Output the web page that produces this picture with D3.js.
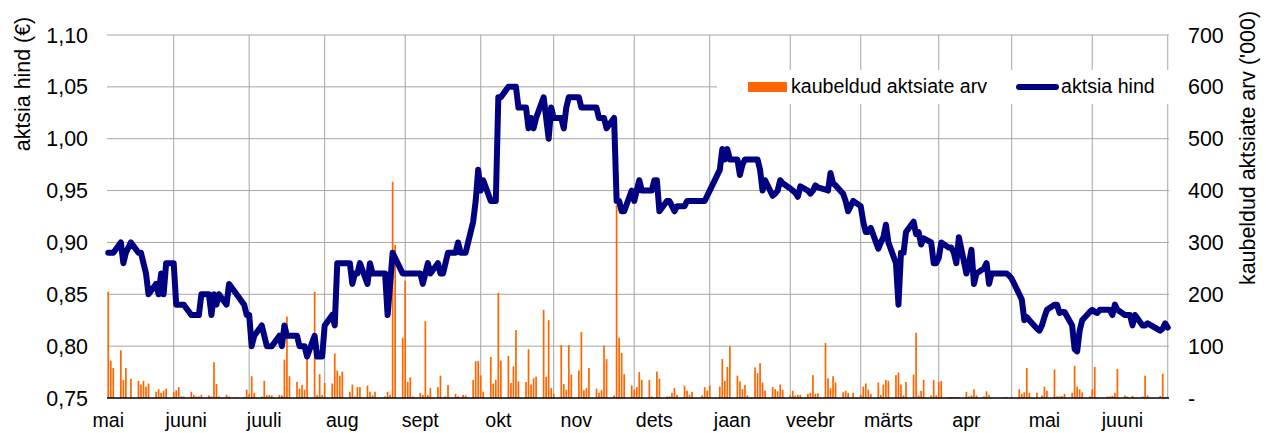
<!DOCTYPE html>
<html>
<head>
<meta charset="utf-8">
<script src="https://cdnjs.cloudflare.com/ajax/libs/d3/7.8.5/d3.min.js"></script>
<style>
    body { margin: 0; background: #fff; }
    svg { font-family: "Liberation Sans", Arial, sans-serif; }
</style>
</head>
<body>
<div id="graafik"></div>
<script>
// calendar span of the axis and exchange holidays
var algus = "2010-05-05";
var lopp = "2011-06-30";
var puhkepaevad = ["2010-06-23", "2010-06-24", "2010-08-20", "2010-12-24", "2010-12-31",
    "2011-02-24", "2011-04-22", "2011-06-23", "2011-06-24"];

var kuud = ["mai", "juuni", "juuli", "aug", "sept", "okt", "nov", "dets", "jaan", "veebr", "märts", "apr", "mai", "juuni"];
var hinnaTicks = [0.75, 0.80, 0.85, 0.90, 0.95, 1.00, 1.05, 1.10];
var mahuTicks = [0, 100, 200, 300, 400, 500, 600, 700];

// aktsia hind (EUR), one value per trading day, one row per week
var hind = [
    0.89, 0.89, 0.89,
    0.90, 0.88, 0.89, 0.895, 0.90,
    0.89, 0.89, 0.88, 0.87, 0.85,
    0.86, 0.85, 0.87, 0.85, 0.88,
    0.88, 0.84, 0.84, 0.84, 0.84,
    0.83, 0.83, 0.83, 0.83, 0.85,
    0.85, 0.83, 0.85, 0.84, 0.85,
    0.84, 0.86, 0.85,
    0.84, 0.83, 0.83, 0.80, 0.81,
    0.82, 0.81, 0.80, 0.80, 0.80,
    0.81, 0.80, 0.82, 0.81, 0.81,
    0.81, 0.80, 0.80, 0.80, 0.79,
    0.81, 0.79, 0.79, 0.79, 0.82,
    0.83, 0.82, 0.88, 0.88, 0.88,
    0.88, 0.86, 0.87, 0.87, 0.88,
    0.86, 0.88, 0.87, 0.87,
    0.87, 0.83, 0.86, 0.89, 0.885,
    0.87, 0.87, 0.87, 0.87, 0.87,
    0.87, 0.86, 0.87, 0.88, 0.87,
    0.88, 0.87, 0.87, 0.88, 0.89,
    0.89, 0.90, 0.89, 0.89, 0.89,
    0.92, 0.94, 0.97, 0.95, 0.96,
    0.94, 0.94, 0.94, 1.04, 1.04,
    1.05, 1.05, 1.05, 1.05, 1.03,
    1.03, 1.01, 1.02, 1.01, 1.02,
    1.04, 1.02, 1.00, 1.03, 1.02,
    1.02, 1.01, 1.03, 1.04, 1.04,
    1.04, 1.03, 1.03, 1.03, 1.03,
    1.03, 1.02, 1.02, 1.02, 1.01,
    1.02, 0.94, 0.94, 0.93, 0.93,
    0.95, 0.94, 0.95, 0.96, 0.95,
    0.95, 0.95, 0.96, 0.96, 0.93,
    0.94, 0.94, 0.935, 0.93, 0.935,
    0.935, 0.94, 0.94, 0.94,
    0.94, 0.94, 0.945, 0.95,
    0.97, 0.99, 0.98, 0.99, 0.98,
    0.98, 0.965, 0.975, 0.98, 0.98,
    0.98, 0.98, 0.97, 0.95, 0.96,
    0.945, 0.947, 0.95, 0.96, 0.957,
    0.952, 0.95, 0.948, 0.944, 0.954,
    0.95, 0.947, 0.95, 0.955, 0.953,
    0.951, 0.95, 0.967, 0.957, 0.955,
    0.947, 0.94, 0.93, 0.94,
    0.935, 0.92, 0.91, 0.91, 0.914,
    0.894, 0.90, 0.905, 0.917, 0.90,
    0.88, 0.84, 0.89, 0.89, 0.91,
    0.92, 0.908, 0.91, 0.898, 0.904,
    0.90, 0.88, 0.88, 0.885, 0.90,
    0.895, 0.895, 0.89, 0.88, 0.905,
    0.87, 0.88, 0.893, 0.86, 0.87,
    0.875, 0.88, 0.86, 0.87,
    0.87, 0.87, 0.87, 0.868, 0.865,
    0.85, 0.845, 0.825, 0.828, 0.825,
    0.817, 0.815, 0.82, 0.828, 0.835,
    0.84, 0.84, 0.832, 0.833, 0.833,
    0.82, 0.797, 0.795, 0.815, 0.825,
    0.833, 0.835, 0.833, 0.832, 0.835,
    0.835, 0.835, 0.83, 0.84, 0.835,
    0.83, 0.83, 0.83, 0.82, 0.83,
    0.82, 0.82, 0.822,
    0.815, 0.817, 0.822, 0.818
];

// kaubeldud aktsiate arv ('000), same days
var maht = [
    205, 72, 58,
    92, 35, 58, 0, 37,
    33, 26, 33, 22, 28,
    12, 17, 10, 14, 18,
    12, 15, 21, 3, 3,
    12, 6, 3, 3, 6,
    5, 3, 69, 27, 3,
    6, 3, 1,
    2, 16, 8, 42, 10,
    3, 33, 5, 6, 5,
    6, 5, 74, 157, 42,
    31, 18, 25, 16, 80,
    205, 6, 46, 6, 29,
    28, 86, 53, 43, 51,
    12, 26, 3, 21, 21,
    24, 12, 5, 12,
    3, 12, 6, 417, 295,
    116, 226, 31, 40, 3,
    10, 6, 148, 6, 19,
    21, 43, 0, 3, 25,
    8, 3, 0, 6, 5,
    35, 71, 71, 44, 12,
    79, 28, 35, 203, 72,
    81, 29, 61, 131, 32,
    31, 94, 26, 38, 41,
    170, 41, 150, 19, 8,
    102, 27, 16, 102, 45,
    53, 127, 15, 19, 58,
    18, 10, 15, 101, 75,
    5, 373, 116, 87, 46,
    24, 16, 21, 50, 35,
    35, 3, 0, 51, 37,
    3, 3, 10, 19, 6,
    24, 14, 6, 12,
    5, 21, 14, 24,
    22, 75, 33, 60, 100,
    43, 32, 17, 25, 5,
    59, 48, 67, 30, 14,
    21, 17, 13, 26, 16,
    5, 14, 5, 6, 6,
    8, 10, 44, 8, 9,
    106, 38, 19, 42, 30,
    11, 14, 10, 10,
    6, 22, 28, 16, 8,
    30, 6, 26, 35, 33,
    44, 49, 26, 5, 31,
    45, 126, 5, 14, 35,
    5, 35, 5, 31, 33,
    2, 2, 2, 2, 2,
    12, 3, 5, 17, 5,
    3, 13, 6, 1,
    0, 2, 2, 0, 2,
    17, 8, 11, 58, 10,
    10, 0, 5, 22, 14,
    55, 3, 3, 4, 8,
    10, 62, 22, 17, 11,
    3, 17, 60, 1, 0,
    3, 3, 4, 10, 56,
    5, 3, 0, 4, 0,
    3, 43, 5,
    4, 47, 2, 2
];

function graafik(id) {
    var W = 1266, H = 433;
    var margin = {top: 35, right: 97, bottom: 35, left: 107};
    var width = W - margin.left - margin.right;
    var height = H - margin.top - margin.bottom;

    var svg = d3.select("#" + id).append("svg")
            .attr("width", W)
            .attr("height", H);

    // trading days
    var start = new Date(algus + "T00:00:00Z");
    var end = d3.utcDay.offset(new Date(lopp + "T00:00:00Z"), 1);
    var paevad = d3.utcDays(start, end).filter(function (p) {
        var wd = p.getUTCDay();
        return wd !== 0 && wd !== 6 && puhkepaevad.indexOf(p.toISOString().slice(0, 10)) < 0;
    });
    if (paevad.length !== hind.length || paevad.length !== maht.length)
        console.warn("andmete pikkus", paevad.length, hind.length, maht.length);

    var data = paevad.map(function (p, i) {
        return {kuup: d3.utcHour.offset(p, 12), hind: hind[i], maht: maht[i]};
    });

    var x = d3.scaleUtc().domain([start, end]).range([0, width]);
    var yL = d3.scaleLinear().domain([0.75, 1.10]).range([height, 0]);
    var yR = d3.scaleLinear().domain([0, 700]).range([height, 0]);

    var g = svg.append("g")
            .attr("transform", "translate(" + margin.left + "," + margin.top + ")");

    // horizontal gridlines
    g.selectAll(".hgrid")
            .data(hinnaTicks.slice(1))
            .enter().append("line")
            .attr("x1", 0).attr("x2", width)
            .attr("y1", function (d) { return yL(d); })
            .attr("y2", function (d) { return yL(d); })
            .attr("stroke", "#a6a6a6")
            .attr("stroke-width", 1);

    // vertical gridlines on the last trading day of each month
    var kuuLopud = d3.groups(data, function (d) {
        return d.kuup.getUTCFullYear() * 12 + d.kuup.getUTCMonth();
    }).map(function (k) { return k[1][k[1].length - 1].kuup; });

    g.selectAll(".vgrid")
            .data(kuuLopud)
            .enter().append("line")
            .attr("x1", function (d) { return x(d); })
            .attr("x2", function (d) { return x(d); })
            .attr("y1", 0).attr("y2", height)
            .attr("stroke", "#a6a6a6")
            .attr("stroke-width", 1);

    // volume bars
    g.selectAll(".bar")
            .data(data.filter(function (d) { return d.maht > 0; }))
            .enter().append("rect")
            .attr("class", "bar")
            .attr("x", function (d) { return x(d.kuup) - 0.85; })
            .attr("y", function (d) { return yR(d.maht); })
            .attr("width", 1.7)
            .attr("height", function (d) { return height - yR(d.maht); })
            .attr("fill", "#ff6600");

    // x axis line
    g.append("line")
            .attr("x1", 0).attr("x2", width)
            .attr("y1", height).attr("y2", height)
            .attr("stroke", "#000")
            .attr("stroke-width", 1.5);

    // legend box
    var leg = svg.append("g");
    leg.append("rect")
            .attr("x", 717).attr("y", 70)
            .attr("width", 454).attr("height", 34)
            .attr("fill", "#fff");
    leg.append("rect")
            .attr("x", 748).attr("y", 82)
            .attr("width", 39).attr("height", 10)
            .attr("fill", "#ff6600");
    leg.append("text")
            .attr("x", 791).attr("y", 93)
            .attr("font-size", "19.6px")
            .text("kaubeldud aktsiate arv");
    leg.append("line")
            .attr("x1", 1019).attr("x2", 1056)
            .attr("y1", 87).attr("y2", 87)
            .attr("stroke", "#000080")
            .attr("stroke-width", 6)
            .attr("stroke-linecap", "round");
    leg.append("text")
            .attr("x", 1061).attr("y", 93)
            .attr("font-size", "19.6px")
            .text("aktsia hind");

    // price line
    var joon = d3.line()
            .x(function (d) { return x(d.kuup); })
            .y(function (d) { return yL(d.hind); });

    g.append("path")
            .datum(data)
            .attr("d", joon)
            .attr("fill", "none")
            .attr("stroke", "#000080")
            .attr("stroke-width", 6)
            .attr("stroke-linejoin", "round")
            .attr("stroke-linecap", "round");

    // left ticks
    var fmt = d3.format(".2f");
    g.selectAll(".tickL")
            .data(hinnaTicks)
            .enter().append("text")
            .attr("x", -19)
            .attr("y", function (d) { return yL(d) + 7.5; })
            .attr("text-anchor", "end")
            .attr("font-size", "21.4px")
            .text(function (d) { return fmt(d).replace(".", ","); });

    // right ticks
    g.selectAll(".tickR")
            .data(mahuTicks)
            .enter().append("text")
            .attr("x", width + 19)
            .attr("y", function (d) { return yR(d) + 7.5; })
            .attr("text-anchor", "start")
            .attr("font-size", "21.4px")
            .text(function (d) { return d === 0 ? "-" : d; });

    // month labels every 31 days from the first day
    g.selectAll(".kuu")
            .data(kuud)
            .enter().append("text")
            .attr("x", function (d, i) { return x(d3.utcHour.offset(d3.utcDay.offset(start, 31 * i), 12)); })
            .attr("y", height + 29)
            .attr("text-anchor", "middle")
            .attr("font-size", "19.6px")
            .text(function (d) { return d; });

    // axis titles
    svg.append("text")
            .attr("transform", "translate(30,84) rotate(-90)")
            .attr("text-anchor", "middle")
            .attr("font-size", "21.4px")
            .text("aktsia hind (€)");
    svg.append("text")
            .attr("transform", "translate(1255,148) rotate(-90)")
            .attr("text-anchor", "middle")
            .attr("font-size", "21.4px")
            .text("kaubeldud aktsiate arv ('000)");
}

graafik("graafik");
</script>
</body>
</html>
